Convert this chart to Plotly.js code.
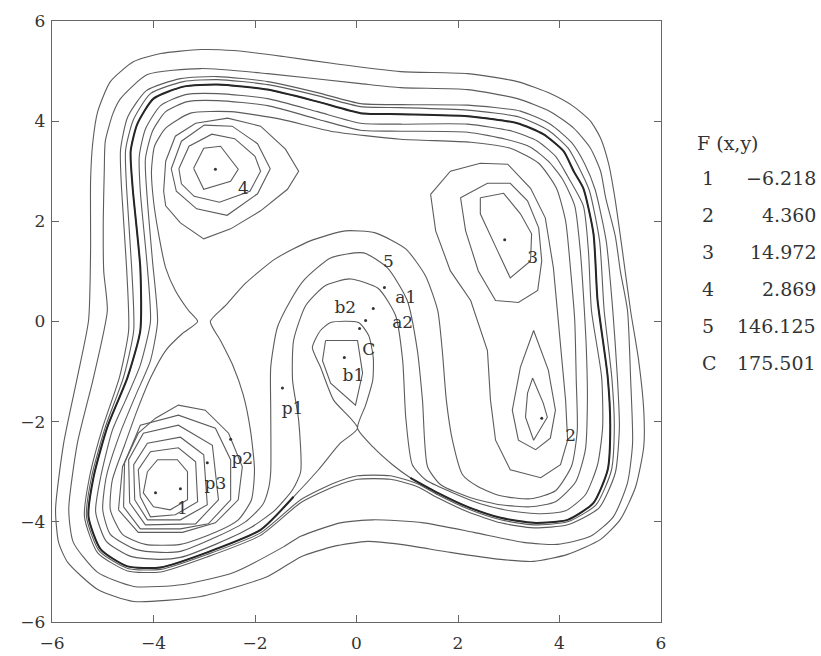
<!DOCTYPE html>
<html><head><meta charset="utf-8">
<script src="https://cdn.plot.ly/plotly-3.0.1.min.js"></script>
<style>html,body{margin:0;padding:0;background:#fff}</style>
</head><body><div id="chart" style="width:821px;height:656px"></div>
<script>
// ---- contour lines (x, y in axis units) ----
const curveA = [[-5.28,0.02],[-5.24,1.41],[-5.24,2.80],[-5.20,3.54],[-5.10,4.19],[-4.85,4.79],[-4.39,5.19],[-3.86,5.35],[-3.07,5.43],[-2.42,5.41],[-1.44,5.29],[-0.45,5.15],[0.87,4.99],[2.19,4.95],[3.17,4.79],[3.82,4.55],[4.28,4.29],[4.61,4.00],[4.81,3.66],[4.97,3.14],[5.10,2.41],[5.24,1.41],[5.40,0.22],[5.56,-0.78],[5.66,-1.77],[5.66,-2.50],[5.50,-3.30],[5.20,-3.95],[4.81,-4.35],[4.16,-4.65],[3.49,-4.79],[2.84,-4.75],[1.85,-4.61],[0.87,-4.45],[0.22,-4.39],[-0.45,-4.49],[-1.10,-4.70],[-1.75,-5.09],[-3.07,-5.49],[-4.39,-5.59],[-5.10,-5.35],[-5.69,-4.81],[-5.87,-4.41],[-5.93,-3.76],[-5.77,-2.43],[-5.50,-1.11],[-5.28,0.02]];
const curveB = [[-4.91,0.22],[-4.98,1.00],[-4.99,2.01],[-4.97,3.00],[-4.95,3.60],[-4.80,4.15],[-4.65,4.45],[-4.12,4.93],[-3.07,5.05],[-1.75,4.95],[0.08,4.75],[0.87,4.67],[2.19,4.63],[3.17,4.45],[3.82,4.19],[4.28,3.86],[4.61,3.46],[4.81,3.00],[4.91,2.47],[5.10,1.70],[5.20,1.00],[5.34,0.22],[5.40,-1.11],[5.44,-2.43],[5.34,-3.22],[5.06,-3.90],[4.61,-4.29],[3.96,-4.45],[3.29,-4.41],[2.31,-4.21],[1.32,-4.02],[0.33,-3.96],[-0.32,-4.02],[-1.10,-4.29],[-1.44,-4.50],[-2.42,-5.01],[-3.41,-5.25],[-4.39,-5.29],[-5.10,-5.01],[-5.58,-4.41],[-5.67,-3.76],[-5.50,-2.43],[-5.18,-1.11],[-4.91,0.22]];
const curveC = [[-1.89,-4.27],[-1.10,-3.62],[-0.45,-3.30],[0.02,-3.15],[0.67,-3.15],[1.20,-3.30],[1.60,-3.52],[2.19,-3.80],[2.84,-4.02],[3.49,-4.12],[4.16,-4.06],[4.78,-3.72],[5.10,-3.02],[5.18,-2.11],[5.14,-1.11],[5.05,0.22],[4.92,1.61],[4.70,2.64],[4.50,3.14],[4.24,3.57],[3.82,3.94],[3.23,4.20],[2.19,4.32],[0.87,4.33],[0.08,4.35],[-0.77,4.57],[-1.75,4.79],[-2.74,4.89],[-3.47,4.85],[-4.14,4.61],[-4.51,4.08],[-4.65,3.42],[-4.63,2.66],[-4.53,1.07],[-4.49,-0.18],[-4.67,-1.11],[-5.00,-2.11],[-5.26,-3.10],[-5.36,-3.90],[-5.10,-4.62],[-4.51,-4.98],[-3.86,-5.00],[-2.94,-4.70],[-1.89,-4.27]];
const curveC2 = [[-1.89,-4.22],[-1.10,-3.56],[-0.45,-3.23],[0.02,-3.08],[0.67,-3.08],[1.20,-3.24],[1.60,-3.46],[2.19,-3.74],[2.84,-3.96],[3.49,-4.06],[4.16,-4.00],[4.72,-3.66],[5.02,-2.98],[5.08,-2.11],[5.03,-1.11],[4.88,0.22],[4.79,1.61],[4.59,2.61],[4.40,3.04],[4.17,3.46],[3.78,3.82],[3.22,4.08],[2.19,4.22],[0.87,4.27],[0.08,4.29],[-0.77,4.51],[-1.75,4.73],[-2.74,4.83],[-3.41,4.79],[-4.06,4.55],[-4.40,4.02],[-4.55,3.42],[-4.53,2.66],[-4.43,1.07],[-4.39,-0.18],[-4.59,-1.11],[-4.95,-2.11],[-5.22,-3.10],[-5.32,-3.90],[-5.07,-4.58],[-4.51,-4.93],[-3.86,-4.95],[-2.94,-4.65],[-1.89,-4.22]];
// thick contour through the saddle below the centre (goes up to the X and round the b-ring)
const curveD = [[-1.89,-4.16],[-1.24,-3.50],[-0.75,-2.96],[-0.32,-2.43],[0.02,-2.13],[-0.45,-1.57],[-0.71,-0.91],[-0.87,-0.52],[-0.71,-0.18],[-0.51,-0.02],[0.04,-0.02],[0.24,-0.28],[0.33,-0.72],[0.32,-1.17],[0.18,-1.67],[0.02,-2.13],[0.33,-2.51],[0.71,-2.86],[1.06,-3.12],[1.60,-3.42],[2.19,-3.70],[2.84,-3.92],[3.49,-4.02],[4.16,-3.96],[4.67,-3.62],[4.95,-2.96],[5.00,-2.11],[4.95,-1.11],[4.75,0.42],[4.67,1.75],[4.47,2.66],[4.28,3.00],[4.08,3.40],[3.68,3.74],[3.17,3.96],[2.19,4.10],[0.87,4.14],[0.08,4.16],[-0.77,4.39],[-1.75,4.63],[-2.74,4.73],[-3.41,4.69],[-4.00,4.45],[-4.32,3.94],[-4.45,3.40],[-4.41,2.66],[-4.26,1.07],[-4.26,-0.18],[-4.51,-1.11],[-4.91,-2.11],[-5.18,-3.10],[-5.28,-3.90],[-5.04,-4.55],[-4.51,-4.89],[-3.86,-4.91],[-2.94,-4.61],[-1.89,-4.16]];
const curveE = [[-1.10,-3.00],[-1.14,-1.97],[-1.26,-1.17],[-1.24,-0.38],[-1.00,0.32],[-0.61,0.72],[-0.12,0.85],[0.43,0.66],[0.77,0.12],[0.91,-0.78],[0.97,-1.91],[1.10,-2.86],[1.36,-3.16],[1.85,-3.40],[2.44,-3.64],[3.03,-3.78],[3.63,-3.84],[4.12,-3.78],[4.51,-3.46],[4.75,-2.86],[4.85,-2.11],[4.83,-1.11],[4.63,0.22],[4.57,1.41],[4.47,2.31],[4.16,2.90],[3.92,3.30],[3.57,3.60],[3.07,3.80],[2.19,3.94],[0.87,3.94],[0.08,3.96],[-0.77,4.19],[-1.75,4.45],[-2.74,4.55],[-3.37,4.53],[-3.86,4.31],[-4.16,3.84],[-4.28,3.30],[-4.26,2.60],[-4.12,1.07],[-4.06,0.00],[-4.26,-0.87],[-4.55,-1.57],[-4.81,-2.17],[-5.04,-3.10],[-5.14,-3.80],[-4.93,-4.39],[-4.45,-4.69],[-3.86,-4.75],[-3.47,-4.71],[-2.78,-4.45],[-2.09,-4.12],[-1.60,-3.76],[-1.26,-3.36],[-1.10,-3.00]];
const curveF = [[-1.69,-3.00],[-1.69,-1.77],[-1.69,-0.91],[-1.56,-0.12],[-1.30,0.42],[-1.04,0.82],[-0.51,1.27],[0.14,1.37],[0.61,1.07],[1.00,0.42],[1.20,-0.58],[1.30,-1.57],[1.40,-2.90],[1.66,-3.26],[2.25,-3.52],[2.84,-3.66],[3.43,-3.70],[3.92,-3.60],[4.32,-3.20],[4.51,-2.56],[4.55,-1.57],[4.53,-0.58],[4.49,0.22],[4.41,1.41],[4.30,2.31],[4.06,2.84],[3.78,3.20],[3.43,3.48],[2.94,3.64],[2.19,3.78],[0.87,3.80],[0.08,3.82],[-0.77,4.04],[-1.75,4.31],[-2.74,4.41],[-3.33,4.39],[-3.76,4.19],[-4.02,3.80],[-4.16,3.24],[-4.12,2.41],[-4.02,1.21],[-3.92,0.00],[-4.06,-0.78],[-4.35,-1.47],[-4.65,-2.21],[-4.93,-3.10],[-5.00,-3.76],[-4.85,-4.25],[-4.35,-4.55],[-3.86,-4.61],[-3.47,-4.59],[-2.78,-4.31],[-2.19,-4.00],[-1.85,-3.66],[-1.73,-3.32],[-1.69,-3.00]];
const curveG = [[-3.13,0.00],[-3.31,0.22],[-3.57,0.62],[-3.76,1.07],[-3.90,1.75],[-4.00,2.41],[-4.04,3.00],[-3.98,3.50],[-3.76,3.86],[-3.27,4.16],[-2.48,4.19],[-1.50,4.04],[-0.51,3.80],[0.87,3.64],[2.25,3.58],[3.03,3.46],[3.59,3.16],[3.94,2.66],[4.12,2.01],[4.22,1.01],[4.30,0.02],[4.33,-1.17],[4.35,-2.17],[4.24,-2.88],[3.92,-3.38],[3.43,-3.54],[2.84,-3.48],[2.40,-3.30],[2.09,-3.06],[1.89,-2.37],[1.77,-1.57],[1.69,-0.58],[1.60,0.22],[1.36,0.91],[0.97,1.45],[0.37,1.77],[-0.22,1.81],[-0.91,1.61],[-1.60,1.25],[-2.19,0.76],[-2.58,0.32],[-2.88,0.00],[-2.68,-0.38],[-2.44,-0.87],[-2.23,-1.47],[-2.09,-2.17],[-2.01,-2.96],[-2.07,-3.56],[-2.33,-3.96],[-2.78,-4.21],[-3.47,-4.45],[-4.16,-4.45],[-4.61,-4.25],[-4.85,-3.76],[-4.81,-3.16],[-4.57,-2.47],[-4.32,-1.77],[-4.06,-1.13],[-3.76,-0.58],[-3.43,-0.24],[-3.13,0.00]];
const ringB1 = [[-0.61,-0.38],[0.02,-0.38],[0.12,-1.03],[-0.02,-1.67],[-0.51,-1.23],[-0.67,-0.78],[-0.61,-0.38]];
// rings round minimum 1
const ring1a = [[-4.12,-3.00],[-3.92,-2.76],[-3.53,-2.76],[-3.33,-3.00],[-3.33,-3.56],[-3.67,-3.76],[-4.00,-3.70],[-4.20,-3.42],[-4.12,-3.00]];
const ring1b = [[-4.26,-3.50],[-4.30,-2.96],[-4.06,-2.60],[-3.51,-2.52],[-3.17,-2.80],[-3.13,-3.60],[-3.57,-3.86],[-4.06,-3.90],[-4.26,-3.50]];
const ring1c = [[-4.37,-3.56],[-4.39,-2.86],[-4.12,-2.43],[-3.47,-2.31],[-3.01,-2.66],[-2.94,-3.66],[-3.47,-3.96],[-4.12,-3.96],[-4.37,-3.56]];
const ring1d = [[-4.47,-3.62],[-4.49,-2.76],[-4.20,-2.23],[-3.51,-2.07],[-2.84,-2.47],[-2.72,-3.56],[-3.17,-4.04],[-4.16,-4.06],[-4.47,-3.62]];
const ring1e = [[-4.59,-3.70],[-4.57,-2.82],[-4.26,-2.07],[-3.51,-1.87],[-2.78,-2.13],[-2.48,-2.76],[-2.48,-3.56],[-2.92,-4.04],[-3.47,-4.14],[-4.26,-4.14],[-4.59,-3.70]];
const ring1f = [[-4.69,-3.76],[-4.61,-2.90],[-4.30,-2.23],[-3.96,-1.93],[-3.51,-1.67],[-2.98,-1.77],[-2.52,-2.23],[-2.25,-2.90],[-2.33,-3.56],[-2.78,-4.02],[-3.43,-4.21],[-4.30,-4.21],[-4.69,-3.76]];
// rings round minimum 4
const ring4a = [[-3.21,3.06],[-3.01,3.46],[-2.68,3.50],[-2.33,3.04],[-2.48,2.80],[-3.01,2.64],[-3.21,3.06]];
const ring4b = [[-3.50,3.05],[-3.30,3.50],[-2.85,3.74],[-2.40,3.65],[-2.00,3.30],[-1.89,3.00],[-2.10,2.60],[-2.70,2.38],[-3.20,2.50],[-3.45,2.75],[-3.50,3.05]];
const ring4c = [[-3.65,3.05],[-3.45,3.60],[-3.00,3.92],[-2.45,3.90],[-1.95,3.55],[-1.70,3.05],[-1.95,2.55],[-2.55,2.12],[-3.15,2.25],[-3.55,2.60],[-3.65,3.05]];
const ring4d = [[-3.80,2.60],[-3.76,3.20],[-3.57,3.70],[-3.17,3.96],[-2.54,4.06],[-1.89,3.90],[-1.40,3.44],[-1.14,3.00],[-1.36,2.64],[-1.89,2.21],[-2.48,1.85],[-3.01,1.65],[-3.47,1.97],[-3.76,2.31],[-3.80,2.60]];
// right-hand lobe (minima 3 and 2)
const ring3a = [[2.44,2.47],[2.90,2.56],[3.23,2.15],[3.45,1.75],[3.43,1.21],[3.03,0.87],[2.78,1.41],[2.44,2.15],[2.44,2.47]];
const ring3b = [[2.05,2.47],[2.58,2.76],[3.03,2.76],[3.37,2.41],[3.59,1.87],[3.65,1.21],[3.57,0.62],[3.19,0.38],[2.74,0.42],[2.40,1.01],[2.15,1.81],[2.05,2.47]];
const ring2a = [[3.47,-1.13],[3.68,-1.63],[3.76,-1.91],[3.49,-2.37],[3.33,-1.91],[3.37,-1.43],[3.47,-1.13]];
const ring2b = [[3.49,-0.18],[3.78,-0.97],[3.92,-1.77],[3.82,-2.33],[3.53,-2.56],[3.19,-2.37],[3.07,-1.77],[3.23,-0.91],[3.49,-0.18]];
const lobe32 = [[1.46,2.54],[1.85,3.00],[2.44,3.16],[2.98,3.14],[3.43,2.66],[3.72,2.07],[3.88,1.07],[3.96,0.22],[4.06,-0.78],[4.12,-1.57],[4.16,-2.37],[4.02,-2.86],[3.63,-3.12],[3.03,-2.96],[2.74,-2.37],[2.64,-1.57],[2.58,-0.58],[2.25,0.42],[1.85,1.01],[1.56,1.81],[1.46,2.54]];
// marked points and their labels
const pointX = [-2.78, 2.92, 3.65, -3.96, -3.47, -2.94, -2.48, -1.46, -0.24, 0.33, 0.18, 0.06, 0.55];
const pointY = [3.04, 1.63, -1.93, -3.42, -3.34, -2.82, -2.35, -1.33, -0.72, 0.26, 0.02, -0.14, 0.68];
const labelText = ['4','3','2','1','p3','p2','p1','b1','b2','C','a1','a2','5'];
const labelX = [-2.23, 3.47, 4.22, -3.43, -2.78, -2.25, -1.26, -0.06, -0.22, 0.24, 0.97, 0.91, 0.63];
const labelY = [2.64, 1.25, -2.31, -3.76, -3.26, -2.76, -1.77, -1.11, 0.26, -0.58, 0.46, -0.04, 1.17];
// side table F(x,y)
const tableTitle = 'F (x,y)';
const tableKeys = ['1','2','3','4','5','C'];
const tableValues = ['\u22126.218','4.360','14.972','2.869','146.125','175.501'];
const tickValues = [-6,-4,-2,0,2,4,6];

const SERIF = 'DejaVu Serif, Liberation Serif, serif';
const LINE = '#5c5c5c';
function line(pts, opts) {
  opts = opts || {};
  return {type:'scatter', mode:'lines', x: pts.map(p=>p[0]), y: pts.map(p=>p[1]),
    line:{color: opts.color || LINE, width: opts.width || 1.1, shape: opts.spline ? 'spline' : 'linear', smoothing: 0.6},
    hoverinfo:'skip', showlegend:false};
}
const traces = [];
[curveA, curveB, curveC, curveC2, curveE, curveF, curveG].forEach(c => traces.push(line(c, {spline:true})));
traces.push(line(curveD, {spline:true}));
// darker outer stretch of the D contour (where several levels crowd together)
const thickD = curveD.slice(18).concat(curveD.slice(1, 2));
traces.push(line(thickD, {spline:true, color:'#262626', width:2}));
[ringB1, ring1a, ring1b, ring1c, ring1d, ring1e, ring1f, ring4a, ring4b, ring4c, ring4d,
 ring3a, ring3b, ring2a, ring2b, lobe32].forEach(c => traces.push(line(c)));
traces.push({type:'scatter', mode:'markers', x:pointX, y:pointY,
  marker:{size:3, color:'#333'}, hoverinfo:'skip', showlegend:false});
traces.push({type:'scatter', mode:'text', x:labelX, y:labelY, text:labelText,
  textfont:{family:SERIF, size:17, color:'#333'}, textposition:'middle center',
  hoverinfo:'skip', showlegend:false});

const L = 52, R = 661, T = 21, B = 622;
const px2paperX = px => (px - L) / (R - L);
const px2paperY = py => (B - py) / (B - T);
const annotations = [{xref:'paper', yref:'paper', x:px2paperX(695), y:px2paperY(143), xanchor:'left', yanchor:'middle',
  text:tableTitle, showarrow:false, font:{family:SERIF, size:19, color:'#333'}}];
tableKeys.forEach((k, i) => {
  const py = 178 + i * 37;
  annotations.push({xref:'paper', yref:'paper', x:px2paperX(700), y:px2paperY(py), xanchor:'left', yanchor:'middle',
    text:k, showarrow:false, font:{family:SERIF, size:19, color:'#333'}});
  annotations.push({xref:'paper', yref:'paper', x:px2paperX(818), y:px2paperY(py), xanchor:'right', yanchor:'middle',
    text:tableValues[i], showarrow:false, font:{family:SERIF, size:19, color:'#333'}});
});

const axisCommon = {range:[-6,6], tickvals:tickValues, ticks:'inside', ticklen:7, tickcolor:'#666',
  showline:true, linecolor:'#666', linewidth:1.2, mirror:'ticks', showgrid:false, zeroline:false,
  tickfont:{family:SERIF, size:17, color:'#333'}, fixedrange:true};
const layout = {
  width:821, height:656, margin:{l:L, r:821-R, t:T, b:656-B},
  paper_bgcolor:'#fff', plot_bgcolor:'#fff',
  xaxis: Object.assign({}, axisCommon, {ticklabelstandoff:5}),
  yaxis: Object.assign({}, axisCommon, {ticklabelstandoff:2}),
  annotations: annotations, showlegend:false
};
Plotly.newPlot('chart', traces, layout, {staticPlot:true, displayModeBar:false});
</script></body></html>
